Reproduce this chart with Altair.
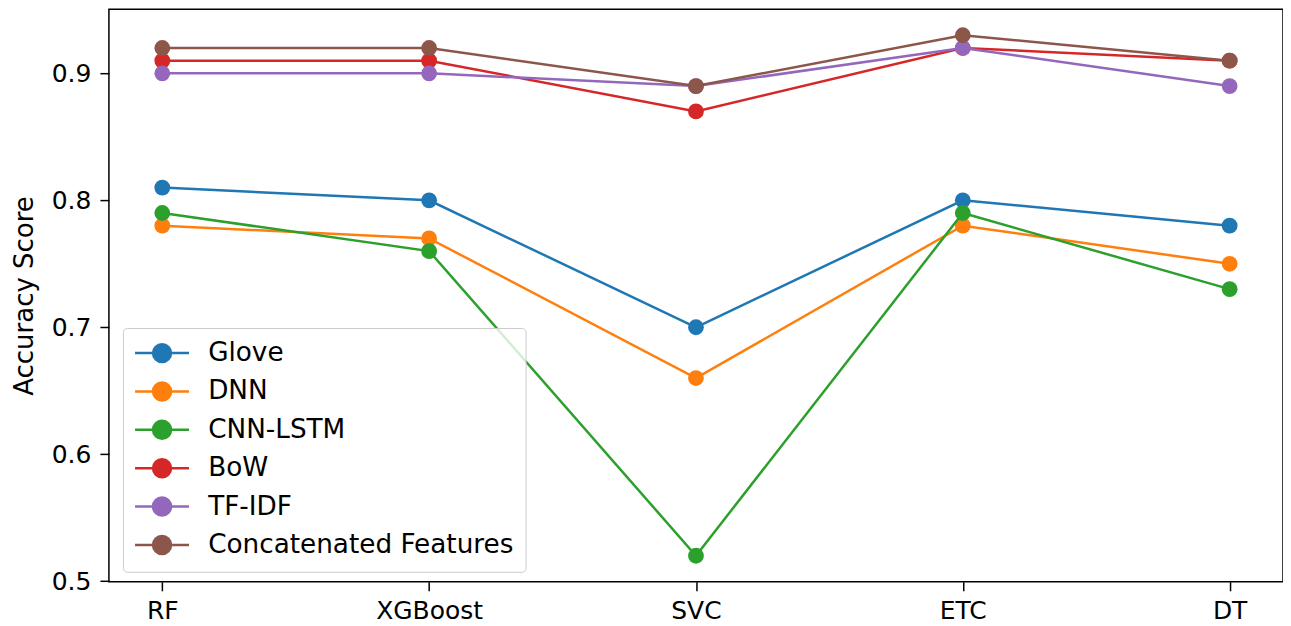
import altair as alt
import pandas as pd

classifiers = ["RF", "XGBoost", "SVC", "ETC", "DT"]
series_names = ["Glove", "DNN", "CNN-LSTM", "BoW", "TF-IDF", "Concatenated Features"]
glove = [0.81, 0.80, 0.70, 0.80, 0.78]
dnn = [0.78, 0.77, 0.66, 0.78, 0.75]
cnn_lstm = [0.79, 0.76, 0.52, 0.79, 0.73]
bow = [0.91, 0.91, 0.87, 0.92, 0.91]
tfidf = [0.90, 0.90, 0.89, 0.92, 0.89]
concat = [0.92, 0.92, 0.89, 0.93, 0.91]
colors = ["#1f77b4", "#ff7f0e", "#2ca02c", "#d62728", "#9467bd", "#8c564b"]

all_values = [glove, dnn, cnn_lstm, bow, tfidf, concat]
rows = []
for name, vals in zip(series_names, all_values):
    for c, v in zip(classifiers, vals):
        rows.append({"Classifier": c, "Series": name, "Score": v})
df = pd.DataFrame(rows)

FONT = "DejaVu Sans"
sym_path = "M-3,0L3,0M1,0A1,1 0 1,1 -1,0A1,1 0 1,1 1,0Z"

legend = alt.Legend(
    orient="none", legendX=14, legendY=319, title=None,
    symbolType=sym_path, symbolSize=324, symbolStrokeWidth=2.5,
    symbolOffset=14, labelOffset=33, rowPadding=9.4,
    labelFont=FONT, labelFontSize=26.3, labelColor="black",
    padding=12, fillColor="rgba(255,255,255,0.8)", strokeColor="#cccccc",
    cornerRadius=4, labelLimit=400,
)

x_enc = alt.X("Classifier:N", sort=classifiers,
              scale=alt.Scale(type="point", padding=0.2),
              axis=alt.Axis(title=None, labelAngle=0, labelFont=FONT, labelFontSize=25,
                            labelColor="black", tickColor="black", tickWidth=1.5,
                            tickSize=9, labelPadding=8, domain=False, grid=False))
y_enc = alt.Y("Score:Q", scale=alt.Scale(domain=[0.4995, 0.9505], nice=False, zero=False),
              axis=alt.Axis(title="Accuracy Score", values=[0.5, 0.6, 0.7, 0.8, 0.9], format=".1f",
                            labelFont=FONT, labelFontSize=25, labelColor="black",
                            titleFont=FONT, titleFontSize=26, titleFontWeight="normal",
                            titleColor="black", titlePadding=14,
                            tickColor="black", tickWidth=1.5, tickSize=9, labelPadding=9,
                            domain=False, grid=False))
stroke_scale = alt.Scale(domain=series_names, range=colors)

layers = []
for name in series_names:
    base = alt.Chart(df).transform_filter(alt.datum.Series == name)
    line = base.mark_line(strokeWidth=2.5).encode(
        x=x_enc, y=y_enc,
        stroke=alt.Stroke("Series:N", scale=stroke_scale, sort=series_names, legend=legend),
    )
    pts = base.mark_point(filled=True, size=250, opacity=1, strokeWidth=0).encode(
        x=x_enc, y=y_enc,
        fill=alt.Fill("Series:N", scale=stroke_scale, sort=series_names, legend=legend),
    )
    layers += [line, pts]

chart = alt.layer(*layers).properties(
    width=1175, height=573,
    autosize=alt.AutoSizeParams(type="none"),
    padding={"left": 101, "top": 1, "right": 0, "bottom": 44},
    background="white",
).configure_view(stroke="black", strokeWidth=1.5)

chart.save("out.html", embed_options={"renderer": "svg", "actions": False})
